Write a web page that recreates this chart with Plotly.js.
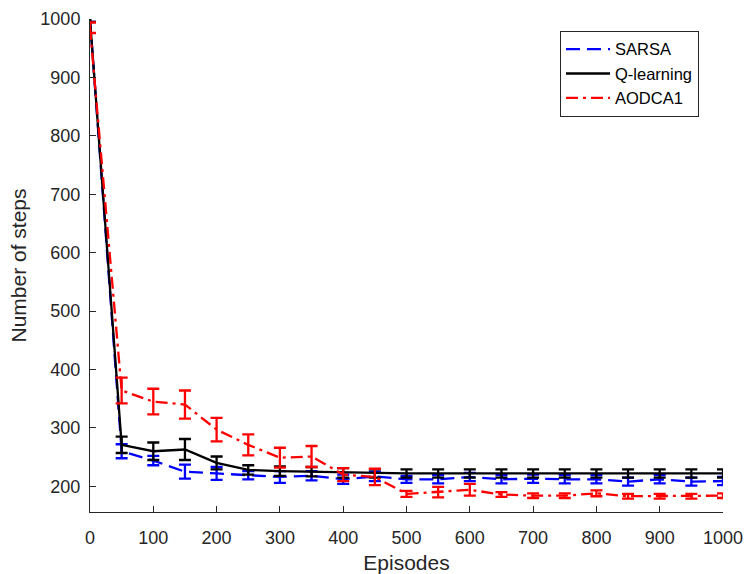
<!DOCTYPE html>
<html>
<head>
<meta charset="utf-8">
<script src="https://cdn.plot.ly/plotly-3.0.1.min.js"></script>
<style>html,body{margin:0;padding:0;background:#fff;}#chart{width:745px;height:574px;}</style>
</head>
<body>
<div id="chart"></div>
<script>
const episodes = [0,50,100,150,200,250,300,350,400,450,500,550,600,650,700,750,800,850,900,950,1000];
const sarsa    = [1000,260,244,225,222,219,216,218,212,217,212,212,216,212,213,212,212,208,212,208,209];
const sarsaErr = [5,12,8,12,11,7,10,8,8,8,6,7,7,7,7,7,7,7,7,7,7];
const qlearn    = [1000,271,260,263,240,228,226,225,223,222,222,222,222,222,222,222,222,222,222,222,222];
const qlearnErr = [5,14,15,18,11,8,8,8,8,7,7,7,7,7,7,7,7,7,7,7,7];
const aodca    = [985,364,345,340,297,271,249,251,220,216,187,190,194,186,184,184,188,183,183,183,184];
const aodcaErr = [9,22,22,24,20,18,17,18,11,14,5,9,10,4,4,4,5,4,4,4,4];
const seriesNames = ['SARSA','Q-learning','AODCA1'];
const xTicks = [0,100,200,300,400,500,600,700,800,900,1000];
const yTicks = [200,300,400,500,600,700,800,900,1000];

function mk(name, y, e, color, dash){
  return {
    x: episodes, y: y, name: name, type: 'scatter', mode: 'lines',
    line: {color: color, width: 2.3, dash: dash},
    error_y: {type: 'data', array: e, visible: true, color: color, thickness: 2.3, width: 6}
  };
}
const data = [
  mk(seriesNames[0], sarsa, sarsaErr, '#0000ff', '14px,7px'),
  mk(seriesNames[1], qlearn, qlearnErr, '#000000', 'solid'),
  mk(seriesNames[2], aodca, aodcaErr, '#ff0000', '12px,5px,3px,5px')
];
const font = 'Liberation Sans, Arial, sans-serif';
const layout = {
  width: 745, height: 574,
  margin: {l: 90, r: 22, t: 19, b: 62},
  paper_bgcolor: '#fff', plot_bgcolor: '#fff',
  font: {family: font, size: 18, color: '#262626'},
  showlegend: true,
  legend: {x: 0.7425, y: 0.976, xanchor: 'left', yanchor: 'top', bgcolor: '#fff',
           bordercolor: '#262626', borderwidth: 1, font: {size: 16.5, color: '#000'},
           itemwidth: 44, tracegroupgap: 0},
  xaxis: {
    range: [0, 1000], tickvals: xTicks, ticktext: xTicks.map(String),
    ticks: 'inside', ticklen: 6, tickcolor: '#262626', tickwidth: 1,
    ticklabelstandoff: 9, automargin: false,
    showline: true, linecolor: '#262626', linewidth: 1, mirror: false,
    showgrid: false, zeroline: false,
    title: {text: 'Episodes', font: {size: 21, color: '#262626'}, standoff: 8}
  },
  yaxis: {
    range: [156, 1000], tickvals: yTicks, ticktext: yTicks.map(String),
    ticks: 'inside', ticklen: 6, tickcolor: '#262626', tickwidth: 1,
    ticklabelstandoff: 5, automargin: false,
    showline: true, linecolor: '#262626', linewidth: 1, mirror: false,
    showgrid: false, zeroline: false,
    title: {text: 'Number of steps', font: {size: 21, color: '#262626'}, standoff: 8}
  }
};
Plotly.newPlot('chart', data, layout, {displayModeBar: false, staticPlot: true});
</script>
</body>
</html>
